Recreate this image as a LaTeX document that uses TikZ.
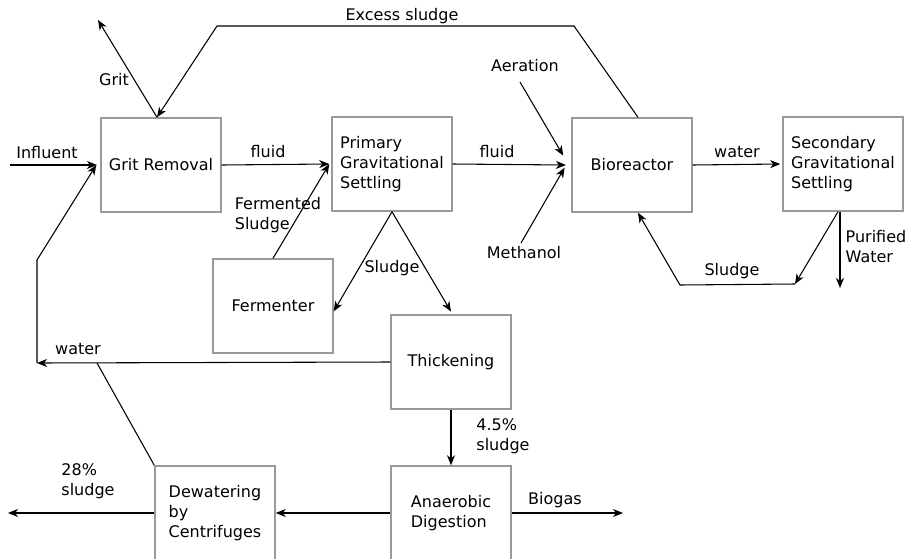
\documentclass[tikz,border=0pt]{standalone}
\usepackage{fontspec}
\setmainfont{DejaVu Sans}
\usetikzlibrary{arrows.meta}
\definecolor{boxgray}{HTML}{999999}

\begin{document}
\begin{tikzpicture}[x=0.75pt,y=-0.75pt,
    every node/.style={font=\fontsize{12}{15}\selectfont},
    unit/.style={draw=boxgray,line width=1.1pt,minimum width=90pt,minimum height=70.5pt,align=left,inner sep=0pt},
    lbl/.style={inner sep=0pt,align=left},
    flow/.style={line width=0.8pt,-{Stealth[length=7.5pt,width=6pt,inset=2.2pt]}}]
            \useasboundingbox (0,0) rectangle (908,558);

            % process units
            \node[unit] (grit) at (161,165) {Grit Removal};
            \node[unit] (primary) at (392,164) {Primary\\Gravitational\\Settling};
            \node[unit] (bio) at (632,165) {Bioreactor};
            \node[unit] (secondary) at (843,164) {Secondary\\Gravitational\\Settling};
            \node[unit] (fermenter) at (273,306) {Fermenter};
            \node[unit] (thick) at (451,362) {Thickening};
            \node[unit] (anaer) at (451,513) {Anaerobic\\Digestion};
            \node[unit] (dewater) at (215,513) {Dewatering\\by\\Centrifuges};

            % free ends and bends
            \coordinate (inflow) at (10,165);
            \coordinate (gritout) at (98,20);
            \coordinate (ex1) at (574,26);
            \coordinate (ex2) at (217,26);
            \coordinate (aerin) at (520,82);
            \coordinate (methin) at (521,243);
            \coordinate (sl1) at (795,284);
            \coordinate (sl2) at (680,285);
            \coordinate (pure) at (840,288);
            \coordinate (wjoin) at (37,363);
            \coordinate (wbend) at (37,260);
            \coordinate (dwjoin) at (97,363);
            \coordinate (sludgeout) at (8,513);
            \coordinate (biogasout) at (623,513);

            % labels
            \node[lbl] (influentlbl) at (47,153) {Influent};
            \node[lbl] (gritlbl) at (114,80) {Grit};
            \node[lbl] (excesslbl) at (402,16) {Excess sludge};
            \node[lbl] (fluidlbl1) at (268,152) {fluid};
            \node[lbl] (fermlbl) at (278,215) {Fermented\\Sludge};
            \node[lbl] (fluidlbl2) at (497,152) {fluid};
            \node[lbl] (aerlbl) at (525,66) {Aeration};
            \node[lbl] (methlbl) at (524,253) {Methanol};
            \node[lbl] (waterlbl1) at (737,152) {water};
            \node[lbl] (sludgelbl2) at (732,271) {Sludge};
            \node[lbl] (purelbl) at (876,247) {Purified\\Water};
            \node[lbl] (sludgelbl1) at (392,268) {Sludge};
            \node[lbl] (waterlbl2) at (78,349) {water};
            \node[lbl] (thicklbl) at (503,436) {4.5\%\\sludge};
            \node[lbl] (dewlbl) at (88,481) {28\%\\sludge};
            \node[lbl] (biogaslbl) at (555,500) {Biogas};

            % streams
            \draw[flow] (inflow) -- ([xshift=-2.5pt]grit.west);
            \draw[flow] ([xshift=-3pt]grit.north) -- (gritout);
            \draw[flow] ([xshift=4.5pt]bio.north) -- (ex1) -- (ex2) -- ([xshift=-3pt]grit.north);
            \draw[flow] (grit.east) -- ([xshift=-1.5pt]primary.west);
            \draw[flow] (fermenter.north) -- ([xshift=-1.5pt]primary.west);
            \draw[flow] (primary.east) -- ([xshift=-4pt]bio.west);
            \draw[flow] (aerin) -- ([xshift=-6pt,yshift=7pt]bio.west);
            \draw[flow] (methin) -- ([xshift=-5pt,yshift=-2pt]bio.west);
            \draw[flow] (bio.east) -- ([xshift=-1.5pt]secondary.west);
            \draw[flow] ([xshift=-3.75pt]secondary.south) -- (sl1);
            \draw[flow] (sl1) -- (sl2) -- ([xshift=4.5pt]bio.south);
            \draw[flow] ([xshift=-2.25pt]secondary.south) -- (pure);
            \draw[flow] (primary.south) -- ([yshift=-4pt]fermenter.east);
            \draw[flow] (primary.south) -- ([yshift=2pt]thick.north);
            \draw[flow] (thick.west) -- (wjoin);
            \draw[flow] (wjoin) -- (wbend) -- ([xshift=-3pt]grit.west);
            \draw[line width=0.8pt] (dewater.north west) -- (dwjoin);
            \draw[flow] (thick.south) -- (anaer.north);
            \draw[flow] (anaer.west) -- (dewater.east);
            \draw[flow] (dewater.west) -- (sludgeout);
            \draw[flow] (anaer.east) -- (biogasout);
        \end{tikzpicture}
\end{document}
